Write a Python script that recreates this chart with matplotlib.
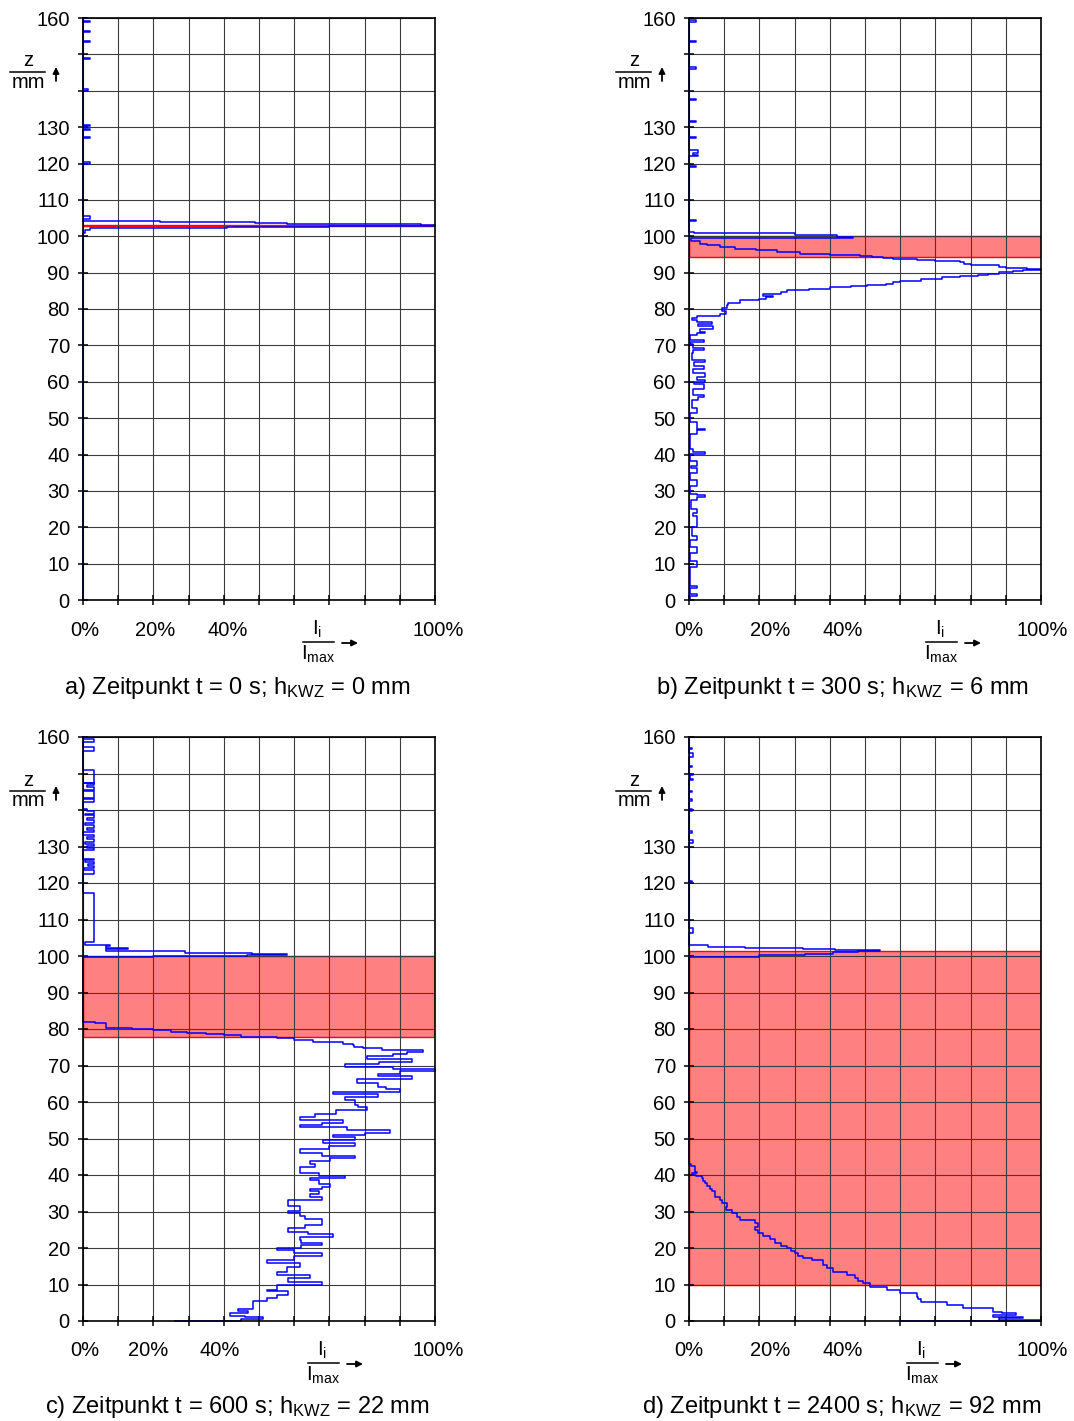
import numpy as np
import matplotlib
matplotlib.use("Agg")
import matplotlib.pyplot as plt
from matplotlib.lines import Line2D
from matplotlib.patches import FancyArrowPatch

plt.rcParams['font.family'] = ['Liberation Sans', 'DejaVu Sans']
plt.rcParams['mathtext.fontset'] = 'custom'
plt.rcParams['mathtext.rm'] = 'Liberation Sans'
plt.rcParams['mathtext.it'] = 'Liberation Sans:italic'
plt.rcParams['mathtext.bf'] = 'Liberation Sans:bold'

# ---------------- data (z in mm, I/Imax in %) ----------------
A_Z = [0, 101.0, 101.6, 102.2, 102.5, 102.8, 103.1, 103.4, 103.7, 104.0, 104.3, 104.8, 105.6,
       120.0, 120.4, 127.0, 127.4, 129.2, 129.6, 130.2, 130.6, 140.0, 140.4, 148.6, 149.0,
       153.4, 153.8, 156.1, 156.5, 158.9, 159.3, 160.0]
A_I = [0, 0.5, 2.0, 41, 70, 100, 96, 58, 49, 22, 0, 2, 0,
       2, 0, 2, 0, 2, 0.5, 2, 0, 1.5, 0, 2, 0,
       2, 0, 2, 0, 2, 0, 0]
A_BAND = (102.8, 103.1)

B_Z = [0, 1.0, 1.6, 3.3, 3.9, 9.0, 10.7, 13.0, 14.7, 16.6,
       17.6, 20.2, 23.2, 23.8, 25.0, 27.6, 28.3, 28.8, 29.2, 31.4,
       33.0, 35.0, 36.3, 36.8, 38.3, 40.1, 40.7, 41.6, 45.5, 46.6,
       47.1, 48.9, 51.4, 52.8, 55.0, 55.8, 56.4, 58.0, 59.4, 59.8,
       60.6, 61.4, 62.4, 63.6, 64.3, 65.3, 66.0, 67.8, 68.6, 69.3,
       70.5, 70.9, 71.4, 72.8, 73.3, 73.8, 74.5, 75.2, 75.8, 76.3,
       77.0, 77.6, 78.2, 78.6, 79.4, 80.2, 81.2, 81.7, 82.4, 82.8,
       83.3, 83.7, 84.2, 84.7, 85.2, 85.6, 86.0, 86.3, 86.7, 87.0,
       87.4, 87.8, 88.3, 88.7, 89.1, 89.4, 89.7, 90.1, 90.4, 90.6,
       90.9, 91.2, 91.6, 92.0, 92.4, 92.8, 93.1, 93.4, 93.7, 94.0,
       94.3, 94.6, 94.9, 95.2, 95.6, 96.1, 96.6, 97.1, 97.6, 98.0,
       98.8, 99.5, 99.9, 100.4, 100.8, 101.2, 104.2, 104.6, 119.0, 119.4,
       122.0, 122.4, 123.0, 123.6, 127.0, 127.4, 131.4, 131.8, 137.4, 137.8,
       146.0, 146.4, 153.3, 153.7, 159.0, 159.5, 160.0]
B_I = [0.3, 2.2, 0.3, 2.2, 0.3, 2.2, 0.3, 2.2, 0.3, 2.2,
       0.8, 2.2, 1.0, 2.2, 0.5, 2.2, 4.5, 2.2, 0.3, 2.2,
       0.3, 2.2, 0.5, 2.2, 0.3, 4.5, 1.2, 0.3, 2.2, 4.5,
       2.2, 0.3, 2.2, 0.8, 2.5, 4.2, 1.2, 4.2, 1.5, 4.5,
       2.2, 4.5, 1.2, 4.2, 1.5, 4.5, 0.8, 1.2, 4.2, 1.2,
       0.3, 4.2, 0.3, 2.2, 4.5, 3.1, 6.7, 2.6, 6.4, 2.2,
       0.8, 2.2, 8.8, 10.5, 9.5, 10.7, 11, 14.5, 20, 22,
       24, 21, 26, 27.7, 34, 40, 46, 50.5, 56, 58,
       60, 66, 72, 77, 82, 85, 88, 92, 95, 100,
       96, 90, 88, 80, 78, 77, 70, 64.7, 58, 55,
       52, 48.6, 40, 31.5, 25, 19, 13, 8.8, 5, 3,
       0.5, 46.7, 42, 30, 1.5, 0, 2, 0, 2, 0,
       2.5, 1.0, 2.5, 0, 2, 0, 2, 0, 2, 0,
       2, 0, 2, 0, 2, 0, 0]
B_BAND = (94.2, 100.0)

C_Z = [0, 0.1, 0.5, 1.0, 1.5, 2.2, 2.8, 3.4, 4.4, 5.4,
       6.3, 7.2, 8.1, 8.5, 9.0, 9.9, 10.8, 11.7, 12.6, 13.5,
       14.9, 15.8, 16.8, 17.8, 18.6, 19.4, 20.1, 20.8, 21.5, 22.2,
       23.1, 23.8, 24.5, 25.5, 26.3, 27.2, 28.0, 28.8, 29.5, 30.2,
       30.9, 31.6, 32.3, 33.2, 34.0, 34.8, 35.5, 36.2, 36.8, 37.6,
       38.5, 39.1, 39.8, 40.5, 41.4, 42.2, 43.1, 43.8, 44.6, 45.3,
       46.0, 47.0, 48.0, 48.9, 49.6, 50.5, 51.0, 51.6, 52.3, 53.1,
       53.6, 54.2, 55.2, 56.0, 56.8, 57.8, 58.5, 59.2, 60.5, 61.3,
       62.1, 62.8, 63.5, 64.2, 65.3, 66.2, 67.1, 67.8, 68.5, 69.1,
       69.7, 70.4, 71.0, 71.7, 72.5, 73.2, 73.7, 74.2, 74.7, 75.2,
       75.6, 76.0, 76.5, 77.0, 77.4, 77.9, 78.3, 78.7, 79.0, 79.3,
       79.7, 80.0, 80.2, 81.6, 82.0, 99.6, 99.9, 100.2, 100.6, 100.9,
       101.4, 101.8, 102.3, 102.7, 103.0, 103.7, 117.3, 122.5, 123.6, 124.0,
       124.6, 125.2, 125.8, 126.2, 126.7, 129.0, 129.6, 130.2, 130.8, 131.3,
       132.0, 132.5, 133.1, 134.0, 134.6, 135.2, 135.9, 136.5, 137.2, 137.8,
       138.5, 139.0, 139.6, 140.2, 142.3, 143.0, 143.2, 145.2, 145.5, 146.2,
       146.8, 147.3, 147.5, 151.0, 156.3, 157.2, 158.5, 159.4, 160.0]
C_I = [26, 45, 51, 46, 41.8, 47, 44, 48.4, 48.4, 52.2,
       55, 58.3, 52.2, 55, 55, 67.8, 58.3, 64.5, 55, 58,
       61.6, 52.2, 60, 67.8, 60, 55, 62, 67.8, 62, 61.6,
       71.1, 64, 58.3, 63, 67.8, 67.8, 63, 61.6, 58.3, 61.6,
       61.6, 58.3, 58.3, 67.8, 64.5, 67, 64.5, 68, 70.2, 67,
       64.5, 74.4, 67, 61.6, 61.6, 66, 64.5, 70.2, 77.3, 68,
       61.6, 70, 77.3, 68.3, 77.3, 71.1, 80, 87.2, 75, 61.6,
       68, 74, 61.6, 66, 72, 80.6, 78, 77.3, 74.4, 83.9,
       71.1, 90, 86, 83.9, 77.7, 93.4, 83.9, 90, 100, 88,
       74.4, 84, 93.4, 80.6, 88, 92, 96.7, 85, 79.6, 77,
       76.8, 74, 65.4, 60, 55, 45, 40, 35, 29.5, 25,
       20, 14, 6.5, 3.4, 0, 20, 46.5, 58, 48, 29,
       6.5, 12.9, 6.5, 7.7, 0.5, 3.2, 0, 3.2, 0.3, 3.2,
       1.5, 3.2, 0.5, 3.2, 0, 3.2, 1.0, 3.2, 0.5, 3.2,
       1.0, 3.2, 0, 3.2, 1.0, 3.2, 0.5, 3.2, 1.0, 3.2,
       0.5, 3.2, 1.0, 0, 3.2, 0.3, 3.2, 0.3, 3.2, 1.0,
       3.2, 0.3, 3.2, 0, 3.2, 0, 3.2, 0, 0]
C_BAND = (77.7, 100.1)

D_Z = [0, 0.1, 0.3, 0.8, 1.2, 1.7, 2.2, 2.6, 3.5, 4.4,
       5.3, 6.0, 6.7, 7.6, 8.5, 9.4, 10.3, 11.0, 11.7, 12.6,
       13.5, 14.4, 15.3, 16.3, 16.8, 17.2, 17.8, 18.5, 19.2, 19.9,
       20.6, 21.3, 22.4, 23.2, 24.0, 24.8, 25.8, 26.8, 27.7, 28.6,
       29.5, 30.4, 31.3, 32.2, 33.2, 34.1, 35.0, 35.6, 36.3, 37.0,
       37.7, 38.4, 39.1, 39.6, 40.0, 40.5, 40.9, 41.8, 42.5, 43.0,
       99.8, 100.2, 100.6, 101.0, 101.4, 101.7, 102.0, 102.3, 102.6, 102.9,
       106.2, 107.6, 120.2, 120.6, 131.0, 131.8, 133.8, 134.2, 139.8, 140.2,
       142.5, 142.9, 144.8, 145.2, 148.2, 148.6, 149.6, 150.0, 151.7, 152.1,
       154.6, 155.5, 156.7, 157.1, 160.0]
D_I = [60, 99.7, 88, 95, 86.5, 93, 89, 86.5, 77.9, 73.2,
       66, 65, 64.7, 59.9, 56.2, 51.4, 49.5, 48, 47.2, 44.8,
       41, 39.1, 38.2, 38.2, 35, 32.5, 31, 30, 29, 27.7,
       26, 24.4, 23, 21, 19.7, 18.8, 19.5, 18.8, 14.5, 13.5,
       12.1, 10.5, 10.7, 9.5, 8.8, 7.5, 7.4, 6.5, 6.0, 5.2,
       4.5, 4.0, 3.6, 2.0, 0.8, 2.2, 1.7, 1.7, 0.5, 0,
       20, 33, 41, 48, 54.3, 41.5, 32.5, 15.9, 5.5, 0,
       1.0, 0, 0.8, 0, 1.0, 0, 0.8, 0, 0.8, 0,
       0.8, 0, 0.8, 0, 1.0, 0.3, 1.0, 0, 0.8, 0,
       1.0, 0, 0.8, 0, 0]
D_BAND = (9.8, 101.5)

Y_TICKS = list(range(0, 161, 10))
Y_LABELS = [str(v) if v not in (140, 150) else '' for v in Y_TICKS]
X_TICKS = list(range(0, 101, 10))
X_LABELS = ['0%', '20%', '40%', '100%']

CAPTIONS = [
    r'a) Zeitpunkt t = 0 s; h$_\mathregular{KWZ}$ = 0 mm',
    r'b) Zeitpunkt t = 300 s; h$_\mathregular{KWZ}$ = 6 mm',
    r'c) Zeitpunkt t = 600 s; h$_\mathregular{KWZ}$ = 22 mm',
    r'd) Zeitpunkt t = 2400 s; h$_\mathregular{KWZ}$ = 92 mm',
]

# ---------------- layout (pixels) ----------------
W, H = 1074, 1421
fig = plt.figure(figsize=(W / 100, H / 100), dpi=100)

panels = [
    dict(z=A_Z, i=A_I, band=A_BAND, cap=CAPTIONS[0], rect=(83, 18, 435, 600),
         xlab=[0.6, 20.5, 41.2, 100.9], idx=234, capc=(237, 688)),
    dict(z=B_Z, i=B_I, band=B_BAND, cap=CAPTIONS[1], rect=(689, 18, 1041, 600),
         xlab=[0.0, 23.0, 43.8, 100.3], idx=251, capc=(842, 688)),
    dict(z=C_Z, i=C_I, band=C_BAND, cap=CAPTIONS[2], rect=(83, 737, 435, 1321),
         xlab=[0.6, 18.5, 38.9, 100.9], idx=239, capc=(237, 1407)),
    dict(z=D_Z, i=D_I, band=D_BAND, cap=CAPTIONS[3], rect=(689, 737, 1041, 1321),
         xlab=[0.0, 23.0, 43.8, 100.3], idx=232, capc=(842, 1407)),
]


def fx(x):
    return x / W


def fy(y):
    return 1 - y / H


def step_path(z, v):
    z = np.asarray(z, float)
    v = np.asarray(v, float)
    assert len(z) == len(v), (len(z), len(v))
    zz = np.repeat(z, 2)[1:]
    vv = np.repeat(v, 2)[:-1]
    return vv, zz


def arrow(x0, y0, x1, y1):
    fig.add_artist(FancyArrowPatch((fx(x0), fy(y0)), (fx(x1), fy(y1)),
                                   transform=fig.transFigure, arrowstyle='-|>',
                                   mutation_scale=9, lw=1.3, color='black',
                                   shrinkA=0, shrinkB=0))


FS = 14.5
for p in panels:
    l, t, r, b = p['rect']
    ax = fig.add_axes([fx(l), fy(b), (r - l) / W, (b - t) / H])
    ax.set_xlim(0, 100)
    ax.set_ylim(0, 160)
    ax.set_axisbelow('line')
    ax.axhspan(p['band'][0], p['band'][1], facecolor='#ff8080', edgecolor='#ff0000',
               linewidth=1.0, zorder=1)
    xs, ys = step_path(p['z'], p['i'])
    ax.plot(xs, ys, color='#0000ff', lw=1.1, zorder=2, clip_on=False)
    ax.set_xticks(X_TICKS)
    ax.set_xticklabels([])
    ax.set_yticks(Y_TICKS)
    ax.set_yticklabels(Y_LABELS)
    ax.grid(True, color='#3c3c3c', lw=0.8)
    ax.tick_params(axis='both', direction='inout', length=7, width=1.1, color='black',
                   labelsize=FS, pad=6)
    for s in ax.spines.values():
        s.set_linewidth(1.2)
        s.set_color('black')

    w = r - l
    for pos, lab in zip(p['xlab'], X_LABELS):
        fig.text(fx(l + pos * w / 100), fy(b + 30), lab, ha='center', va='center', fontsize=FS)

    # y-axis quantity label  z / mm  ↑
    fig.text(fx(l - 55), fy(t + 43), 'z', ha='center', va='center', fontsize=FS)
    fig.add_artist(Line2D([fx(l - 73), fx(l - 38)], [fy(t + 54), fy(t + 54)],
                          transform=fig.transFigure, color='black', lw=1.1))
    fig.text(fx(l - 55), fy(t + 64), 'mm', ha='center', va='center', fontsize=FS)
    arrow(l - 27, t + 63, l - 27, t + 49)

    # x-axis quantity label  Ii / Imax  →
    cx = l + p['idx']
    fig.text(fx(cx), fy(b + 29), r'I$_\mathregular{i}$', ha='center', va='center', fontsize=FS)
    fig.add_artist(Line2D([fx(cx - 14), fx(cx + 17)], [fy(b + 42), fy(b + 42)],
                          transform=fig.transFigure, color='black', lw=1.1))
    fig.text(fx(cx + 1), fy(b + 54), r'I$_\mathregular{max}$', ha='center', va='center',
             fontsize=FS)
    arrow(cx + 25, b + 43, cx + 41, b + 43)

    fig.text(fx(p['capc'][0]), fy(p['capc'][1]), p['cap'], ha='center', va='center',
             fontsize=17)

fig.savefig('out.png', dpi=100, facecolor='white')
